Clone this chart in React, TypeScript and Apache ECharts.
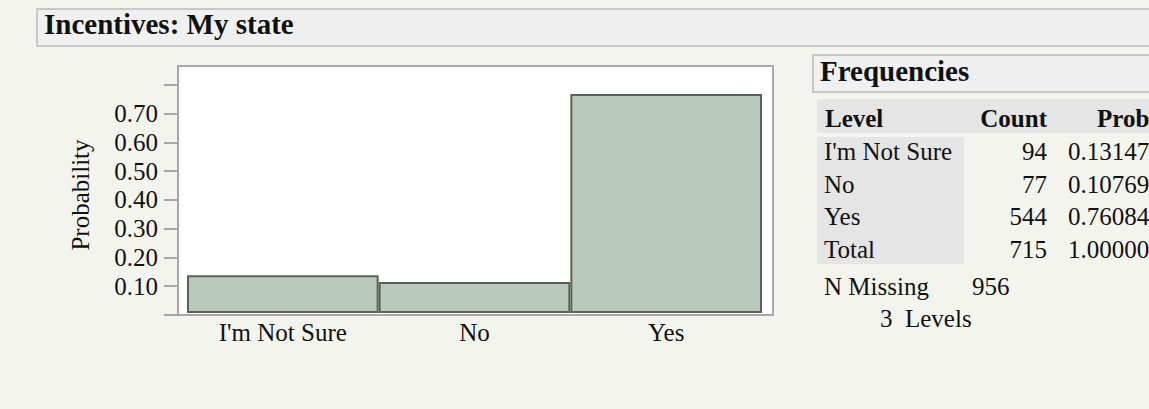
import React, { useEffect, useRef } from "react";
import * as echarts from "echarts";

const categories = ["I'm Not Sure", "No", "Yes"];
const counts = [94, 77, 544];
const probs = [0.13147, 0.10769, 0.76084];
const totalCount = 715;
const totalProb = "1.00000";
const probLabels = ["0.13147", "0.10769", "0.76084"];
const nMissing = 956;
const nLevels = 3;
const yTickValues = [0, 0.1, 0.2, 0.3, 0.4, 0.5, 0.6, 0.7, 0.8];
const yLabelValues = [0.1, 0.2, 0.3, 0.4, 0.5, 0.6, 0.7];
const yMax = 0.865;

const FONT = "'Liberation Serif', 'Times New Roman', serif";

function buildOption() {
  const rowBaselines = [159, 192, 224, 257];
  const mid = (b: number, size: number) => b - size * 0.32;
  const rowLabels = [...categories, "Total"];
  const rowCounts = [...counts.map(String), String(totalCount)];
  const rowProbs = [...probLabels, totalProb];

  const tableTexts: any[] = [];
  rowLabels.forEach((lab, i) => {
    const y = mid(rowBaselines[i], 25);
    tableTexts.push({
      type: "text", x: 824, y,
      style: { text: lab, font: `25px ${FONT}`, fill: "#111", align: "left", verticalAlign: "middle" },
    });
    tableTexts.push({
      type: "text", x: 1047, y,
      style: { text: rowCounts[i], font: `25px ${FONT}`, fill: "#111", align: "right", verticalAlign: "middle" },
    });
    tableTexts.push({
      type: "text", x: 1068, y,
      style: { text: rowProbs[i], font: `25px ${FONT}`, fill: "#111", align: "left", verticalAlign: "middle" },
    });
  });

  return {
    animation: false,
    backgroundColor: "#f4f4ef",
    grid: [
      {
        left: 178, top: 66, width: 595, height: 249,
        show: true, backgroundColor: "#ffffff", borderColor: "#a8a8a8", borderWidth: 2,
      },
      { left: 187, top: 64, width: 575, height: 249 },
    ],
    xAxis: [
      { type: "value", gridIndex: 0, show: false, min: 0, max: 1 },
      {
        type: "category", gridIndex: 1, data: categories, boundaryGap: true,
        axisLine: { show: false }, axisTick: { show: false }, splitLine: { show: false },
        axisLabel: { color: "#111", fontFamily: FONT, fontSize: 25, margin: 7 },
      },
    ],
    yAxis: [
      {
        type: "value", gridIndex: 0, min: 0, max: yMax, interval: 0.1,
        axisLine: { show: true, lineStyle: { color: "#a8a8a8", width: 2 } },
        axisTick: { show: true, length: 14, lineStyle: { color: "#a8a8a8", width: 2 }, customValues: yTickValues },
        axisLabel: {
          color: "#111", fontFamily: FONT, fontSize: 25, margin: 20,
          customValues: yLabelValues,
          formatter: (v: number) => v.toFixed(2),
        },
        splitLine: { show: false },
      },
      { type: "value", gridIndex: 1, min: 0, max: yMax, show: false },
    ],
    series: [
      {
        type: "bar", xAxisIndex: 1, yAxisIndex: 1, data: probs,
        barWidth: "100%", barCategoryGap: "0%",
        itemStyle: { color: "#b9c9bb", borderColor: "#5a635a", borderWidth: 2 },
      },
    ],
    graphic: [
      {
        type: "rect", shape: { x: 37, y: 9, width: 1130, height: 37 },
        style: { fill: "#f0f0f0", stroke: "#c8c8c8", lineWidth: 2 },
      },
      {
        type: "text", x: 44, y: mid(33, 29),
        style: { text: "Incentives: My state", font: `bold 29px ${FONT}`, fill: "#111", verticalAlign: "middle" },
      },
      {
        type: "text", x: 80, y: 195, rotation: Math.PI / 2,
        style: { text: "Probability", font: `25px ${FONT}`, fill: "#111", align: "center", verticalAlign: "middle" },
      },
      {
        type: "rect", shape: { x: 813, y: 55, width: 360, height: 37 },
        style: { fill: "#f0f0f0", stroke: "#c8c8c8", lineWidth: 2 },
      },
      {
        type: "text", x: 820, y: mid(80, 29),
        style: { text: "Frequencies", font: `bold 29px ${FONT}`, fill: "#111", verticalAlign: "middle" },
      },
      {
        type: "rect", shape: { x: 817, y: 99, width: 340, height: 34 },
        style: { fill: "#e5e5e5" },
      },
      {
        type: "rect", shape: { x: 817, y: 137, width: 147, height: 127 },
        style: { fill: "#e5e5e5" },
      },
      {
        type: "text", x: 825, y: mid(126, 25),
        style: { text: "Level", font: `bold 25px ${FONT}`, fill: "#111", verticalAlign: "middle" },
      },
      {
        type: "text", x: 1047, y: mid(126, 25),
        style: { text: "Count", font: `bold 25px ${FONT}`, fill: "#111", align: "right", verticalAlign: "middle" },
      },
      {
        type: "text", x: 1097, y: mid(126, 25),
        style: { text: "Prob", font: `bold 25px ${FONT}`, fill: "#111", align: "left", verticalAlign: "middle" },
      },
      ...tableTexts,
      {
        type: "text", x: 824, y: mid(294, 25),
        style: { text: "N Missing", font: `25px ${FONT}`, fill: "#111", verticalAlign: "middle" },
      },
      {
        type: "text", x: 972, y: mid(294, 25),
        style: { text: String(nMissing), font: `25px ${FONT}`, fill: "#111", verticalAlign: "middle" },
      },
      {
        type: "text", x: 880, y: mid(326, 25),
        style: { text: `${nLevels}  Levels`, font: `25px ${FONT}`, fill: "#111", verticalAlign: "middle" },
      },
    ],
  };
}

export default function App() {
  const ref = useRef<HTMLDivElement>(null);
  useEffect(() => {
    if (!ref.current) return;
    const chart = echarts.init(ref.current, null, { renderer: "svg" });
    chart.setOption(buildOption() as any);
    return () => chart.dispose();
  }, []);
  return (
    <div
      ref={ref}
      style={{ position: "absolute", left: 0, top: 0, width: 1149, height: 409 }}
    />
  );
}
